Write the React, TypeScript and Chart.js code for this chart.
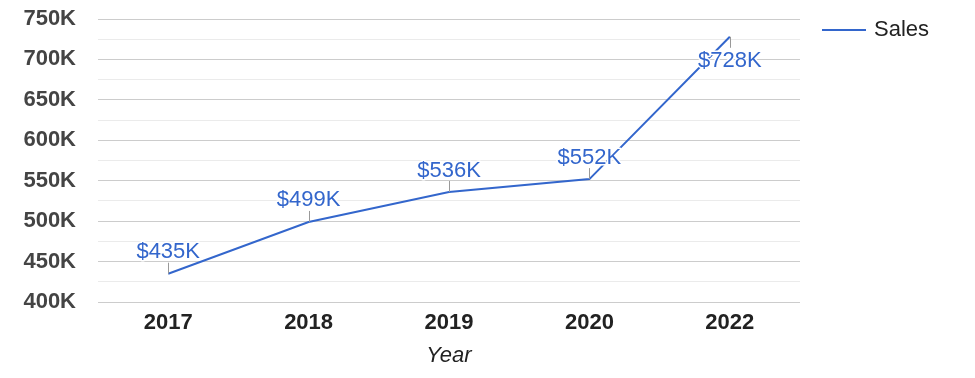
import React, { useEffect, useRef } from 'react';
import { Chart, registerables } from 'chart.js';

Chart.register(...registerables);

const years = ['2017', '2018', '2019', '2020', '2022'];
const sales = [435000, 499000, 536000, 552000, 728000];
const salesLabels = ['$435K', '$499K', '$536K', '$552K', '$728K'];
const seriesName = 'Sales';
const xTitle = 'Year';
const yMin = 400000;
const yMax = 750000;
const yStep = 25000;
const yMajor = 50000;

const FONT = 'Arial, "Liberation Sans", sans-serif';
const BLUE = '#3366cc';

const annotationPlugin = {
  id: 'annotations',
  afterDatasetsDraw(chart: any) {
    const ctx = chart.ctx;
    const meta = chart.getDatasetMeta(0);
    ctx.save();
    meta.data.forEach((pt: any, i: number) => {
      const below = pt.y - 40 < chart.chartArea.top;
      const x = Math.round(pt.x) + 0.5;
      ctx.strokeStyle = '#999999';
      ctx.lineWidth = 1;
      ctx.beginPath();
      ctx.moveTo(x, pt.y);
      ctx.lineTo(x, below ? pt.y + 11 : pt.y - 11);
      ctx.stroke();
      ctx.font = `22px ${FONT}`;
      ctx.textAlign = 'center';
      ctx.textBaseline = 'alphabetic';
      const ty = below ? pt.y + 30 : pt.y - 15.5;
      ctx.strokeStyle = '#ffffff';
      ctx.lineWidth = 3;
      ctx.lineJoin = 'round';
      ctx.strokeText(salesLabels[i], pt.x, ty);
      ctx.fillStyle = BLUE;
      ctx.fillText(salesLabels[i], pt.x, ty);
    });
    ctx.restore();
  },
};

const legendPlugin = {
  id: 'customLegend',
  afterDraw(chart: any) {
    const ctx = chart.ctx;
    const ds = chart.data.datasets[0];
    const x0 = chart.chartArea.right + 22;
    const y = 30;
    ctx.save();
    ctx.strokeStyle = ds.borderColor;
    ctx.lineWidth = 2;
    ctx.beginPath();
    ctx.moveTo(x0, y);
    ctx.lineTo(x0 + 44, y);
    ctx.stroke();
    ctx.font = `22px ${FONT}`;
    ctx.fillStyle = '#222222';
    ctx.textAlign = 'left';
    ctx.textBaseline = 'middle';
    ctx.fillText(ds.label, x0 + 52, y);
    ctx.restore();
  },
};

export default function App() {
  const ref = useRef<HTMLCanvasElement>(null);

  useEffect(() => {
    if (!ref.current) return;
    const chart = new Chart(ref.current, {
      type: 'line',
      data: {
        labels: years,
        datasets: [
          {
            label: seriesName,
            data: sales,
            borderColor: BLUE,
            backgroundColor: BLUE,
            borderWidth: 2,
            pointRadius: 0,
            tension: 0,
          },
        ],
      },
      options: {
        responsive: false,
        animation: false,
        layout: { padding: { top: 19, right: 175, left: 0, bottom: 0 } },
        plugins: {
          legend: { display: false },
          tooltip: { enabled: false },
        },
        scales: {
          x: {
            offset: true,
            grid: { display: false, drawTicks: false },
            border: { display: false },
            ticks: {
              padding: 8,
              color: '#222222',
              font: { family: FONT, size: 22, weight: 'bold' },
            },
            title: {
              display: true,
              text: xTitle,
              color: '#222222',
              font: { family: FONT, size: 22, style: 'italic' },
              padding: { top: 0, bottom: 9 },
            },
            afterFit(scale: any) {
              scale.height = 76;
              scale.paddingLeft = 0;
              scale.paddingRight = 0;
            },
          },
          y: {
            min: yMin,
            max: yMax,
            border: { display: false },
            grid: {
              drawTicks: false,
              lineWidth: 1,
              color: (c: any) =>
                c.tick && c.tick.value % yMajor === 0 ? '#cccccc' : '#ebebeb',
            },
            ticks: {
              stepSize: yStep,
              autoSkip: false,
              padding: 22,
              color: '#444444',
              font: { family: FONT, size: 22, weight: 'bold' },
              callback: (v: any) => (Number(v) % yMajor === 0 ? Number(v) / 1000 + 'K' : ''),
            },
            afterFit(scale: any) {
              scale.width = 98;
              scale.paddingTop = 0;
              scale.paddingBottom = 0;
            },
          },
        },
      },
      plugins: [annotationPlugin, legendPlugin],
    });
    return () => chart.destroy();
  }, []);

  return (
    <canvas
      ref={ref}
      width={975}
      height={378}
      style={{ position: 'absolute', left: 0, top: 0, display: 'block' }}
    />
  );
}
